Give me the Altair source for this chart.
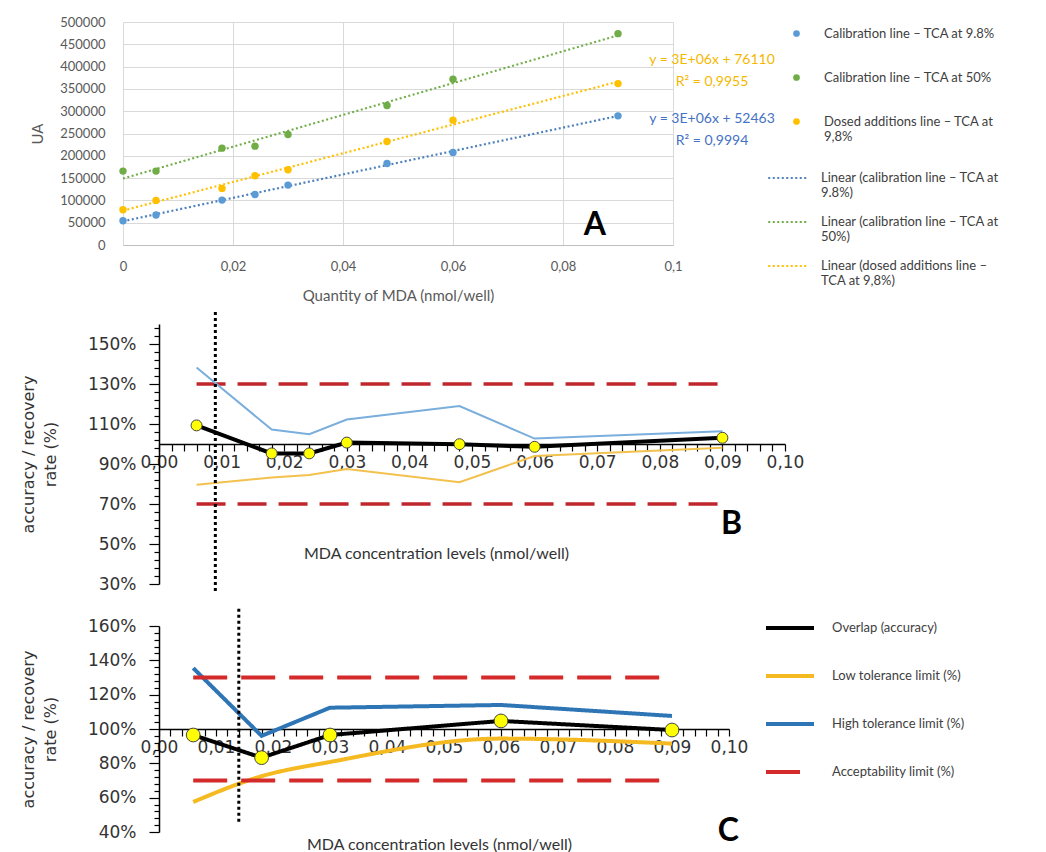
import altair as alt
import pandas as pd

# ---------------- Panel A : calibration lines ----------------
qty = [0, 0.006, 0.018, 0.024, 0.030, 0.048, 0.060, 0.090]
cal_98 = [54500, 67200, 100700, 113400, 134300, 182800, 207500, 289600]
cal_50 = [165700, 165700, 217200, 221600, 247800, 312700, 371600, 473900]
dosed_98 = [79100, 100000, 126900, 155200, 168700, 232100, 279900, 361900]
a_series = ["Calibration line – TCA at 9.8%", "Calibration line – TCA at 50%",
            "Dosed additions line – TCA at|9,8%"]
a_trends = ["Linear (calibration line – TCA at|9.8%)", "Linear (calibration line – TCA at|50%)",
            "Linear (dosed additions line –|TCA at 9,8%)"]
a_colors = ["#5b9bd5", "#70ad47", "#ffc000"]
a_trend_colors = ["#4f81bd", "#70ad47", "#ffc000"]
eq_dosed = "y = 3E+06x + 76110\nR² = 0,9955"
eq_cal98 = "y = 3E+06x + 52463\nR² = 0,9994"
a_xticks = [0, 0.02, 0.04, 0.06, 0.08, 0.1]
a_yticks = [0, 50000, 100000, 150000, 200000, 250000, 300000, 350000, 400000, 450000, 500000]

# ---------------- Panel B : accuracy profile (TCA 9.8%) ----------------
b_x = [0.006, 0.018, 0.024, 0.030, 0.048, 0.060, 0.090]
b_overlap = [1.093, 0.953, 0.953, 1.007, 0.999, 0.986, 1.031]
b_low = [0.796, 0.832, 0.845, 0.875, 0.809, 0.940, 0.981]
b_high = [1.383, 1.072, 1.049, 1.122, 1.190, 1.027, 1.064]
b_lod_x = 0.009
b_lod_span = [1.66, 0.255]

# ---------------- Panel C : accuracy profile (TCA 50%) ----------------
c_x = [0.006, 0.018, 0.030, 0.060, 0.090]
c_overlap = [0.965, 0.833, 0.965, 1.047, 0.994]
c_low = [0.575, 0.725, 0.808, 0.944, 0.915]
c_high = [1.355, 0.960, 1.124, 1.140, 1.076]
c_lod_x = 0.014
c_lod_span = [1.70, 0.455]

accept_limits = [1.30, 0.70]
c_names = ["Overlap (accuracy)", "Low tolerance limit (%)", "High tolerance limit (%)",
           "Acceptability limit (%)"]

conc_ticks = [round(i * 0.002, 3) for i in range(51)]
b_yticks = [round(0.30 + i * 0.04, 2) for i in range(33)]
c_yticks = [round(0.40 + i * 0.04, 2) for i in range(31)]

SHIFT = 36  # B and C plot areas start this far right of panel A's

# =============== Panel A =================
rows = []
for name, trend, vals in zip(a_series, a_trends, [cal_98, cal_50, dosed_98]):
    for xv, yv in zip(qty, vals):
        rows.append({"qty": xv, "UA": yv, "series": name, "trend": trend})
df_a = pd.DataFrame(rows)

x_a = alt.X("qty:Q", scale=alt.Scale(domain=[0, 0.1], nice=False),
            axis=alt.Axis(values=a_xticks, labelExpr="replace(format(datum.value, '~g'), '.', ',')",
                          grid=True, gridColor="#d9d9d9", domainColor="#bfbfbf", ticks=False,
                          labelFont="Lato", labelFontSize=13, labelColor="#595959", labelPadding=15,
                          labelFlush=False, labelOverlap=False,
                          title="Quantity of MDA (nmol/well)", titleFont="Lato", titleFontSize=15,
                          titleFontWeight="normal", titleColor="#595959", titlePadding=15))
y_a = alt.Y("UA:Q", scale=alt.Scale(domain=[0, 500000], nice=False),
            axis=alt.Axis(values=a_yticks, format="d", grid=True, gridColor="#d9d9d9", domain=False,
                          ticks=False, labelFont="Lato", labelFontSize=13, labelColor="#595959",
                          labelPadding=18, labelOverlap=False,
                          title="UA", titleFont="Lato", titleFontSize=15,
                          titleFontWeight="normal", titleColor="#595959", titleX=-78))

leg_points = alt.Legend(title=None, orient="none", legendX=667, legendY=5, symbolType="circle",
                        symbolSize=45, symbolOffset=0, labelOffset=21, rowPadding=30,
                        labelFont="Lato", labelFontSize=13, labelColor="#404040", labelLimit=320,
                        labelExpr="split(datum.label, '|')")
leg_trend = alt.Legend(title=None, orient="none", legendX=644, legendY=135, symbolType="stroke",
                       symbolSize=1560, symbolStrokeWidth=2.2, symbolDash=[2, 2.5], symbolOffset=0,
                       labelOffset=12, rowPadding=1, labelFont="Lato", labelFontSize=13,
                       labelColor="#404040", labelLimit=320, labelExpr="split(datum.label, '|')")

trend_a = alt.Chart(df_a).transform_regression("qty", "UA", groupby=["trend"]).mark_line(
    strokeDash=[2, 2.5], strokeWidth=2.2).encode(
    x=x_a, y=y_a,
    stroke=alt.Stroke("trend:N", scale=alt.Scale(domain=a_trends, range=a_trend_colors), legend=leg_trend))
pts_a = alt.Chart(df_a).mark_circle(size=55, opacity=1).encode(
    x=x_a, y=y_a,
    color=alt.Color("series:N", scale=alt.Scale(domain=a_series, range=a_colors), legend=leg_points))
eq1 = alt.Chart(pd.DataFrame({"qty": [qty[-1]], "UA": [dosed_98[-1]], "t": [eq_dosed]})).mark_text(
    lineBreak="\n", align="center", baseline="top", dx=94, dy=-31, font="Lato", fontSize=14,
    color="#f5b800", lineHeight=22).encode(x=x_a, y=y_a, text="t:N")
eq2 = alt.Chart(pd.DataFrame({"qty": [qty[-1]], "UA": [cal_98[-1]], "t": [eq_cal98]})).mark_text(
    lineBreak="\n", align="center", baseline="top", dx=94, dy=-4, font="Lato", fontSize=14,
    color="#4472c4", lineHeight=22).encode(x=x_a, y=y_a, text="t:N")

chart_a = alt.layer(trend_a, pts_a, eq1, eq2).properties(
    width=550, height=223,
    title=alt.TitleParams("A", anchor="end", frame="group", orient="top", font="Lato", fontSize=32,
                          fontWeight="bold", color="black", baseline="middle", dx=-67, dy=245))


# =============== helpers for B / C =================
def conc_axis(offset, title_x, title_y):
    return alt.Axis(values=conc_ticks, offset=offset,
                    labelExpr="abs(datum.value*100 - round(datum.value*100)) < 0.001 ? "
                              "replace(format(datum.value, '.2f'), '.', ',') : ''",
                    labelFlush=False, labelOverlap=False, grid=False, domainColor="black",
                    domainWidth=1.5, tickColor="black", tickWidth=1.2, tickSize=7,
                    labelFont="DejaVu Sans", labelFontSize=17, labelColor="#333333", labelPadding=3,
                    title="MDA concentration levels (nmol/well)", titleFont="Lato", titleFontSize=16,
                    titleFontWeight="normal", titleColor="#333333", titleX=title_x, titleY=title_y,
                    titleBaseline="middle")


def pct_axis(values, major_expr):
    return alt.Axis(values=values, offset=-SHIFT,
                    labelExpr=f"({major_expr}) ? format(datum.value, '.0%') : ''",
                    tickSize={"condition": {"test": major_expr, "value": 10}, "value": 5},
                    labelOverlap=False, grid=False, domainColor="black", domainWidth=1.5,
                    tickColor="black", tickWidth=1.2, labelFont="DejaVu Sans", labelFontSize=17,
                    labelColor="#333333", labelPadding=13,
                    title=["accuracy / recovery", "rate (%)"], titleFont="DejaVu Sans",
                    titleFontSize=16, titleFontWeight="normal", titleColor="#333333",
                    titleX=-123, titleLineHeight=22)


# =============== Panel B =================
b_width = 626
x_b = alt.X("x:Q", scale=alt.Scale(domain=[0, 0.1], nice=False, range=[SHIFT, SHIFT + b_width]),
            axis=conc_axis(-140, 313, 109))
y_b = alt.Y("y:Q", scale=alt.Scale(domain=[0.3, 1.6], nice=False, zero=False),
            axis=pct_axis(b_yticks, "abs(datum.value*5 - 0.5 - round(datum.value*5 - 0.5)) < 0.001"))

df_b_acc = pd.DataFrame([{"x": xv, "y": lv, "lvl": str(lv)} for lv in accept_limits for xv in (b_x[0], b_x[-1])])
df_b_high = pd.DataFrame({"x": b_x, "y": b_high})
df_b_low = pd.DataFrame({"x": b_x, "y": b_low})
df_b_ov = pd.DataFrame({"x": b_x, "y": b_overlap})
df_b_lod = pd.DataFrame({"x": [b_lod_x], "y": [b_lod_span[0]], "y2": [b_lod_span[1]]})

b_acc = alt.Chart(df_b_acc).mark_line(color="#c0272d", strokeDash=[29, 12], strokeWidth=3.5).encode(
    x=x_b, y=y_b, detail="lvl:N")
b_hi = alt.Chart(df_b_high).mark_line(color="#7aaedc", strokeWidth=2).encode(x=x_b, y=y_b)
b_lo = alt.Chart(df_b_low).mark_line(color="#f2c14e", strokeWidth=2).encode(x=x_b, y=y_b)
b_ovl = alt.Chart(df_b_ov).mark_line(color="black", strokeWidth=4).encode(x=x_b, y=y_b)
b_ovp = alt.Chart(df_b_ov).mark_point(filled=True, fill="#ffff00", stroke="#444444", strokeWidth=1,
                                      size=120, opacity=1).encode(x=x_b, y=y_b)
b_lod = alt.Chart(df_b_lod).mark_rule(color="black", strokeWidth=3, strokeDash=[3, 3]).encode(
    x=x_b, y=y_b, y2="y2:Q")

chart_b = alt.layer(b_acc, b_hi, b_lo, b_ovl, b_ovp, b_lod).properties(
    width=SHIFT + b_width, height=260,
    title=alt.TitleParams("B", anchor="end", frame="group", orient="top", font="Lato", fontSize=32,
                          fontWeight="bold", color="black", baseline="middle", dx=-43, dy=249))

# =============== Panel C =================
c_width = 570
x_c = alt.X("x:Q", scale=alt.Scale(domain=[0, 0.1], nice=False, range=[SHIFT, SHIFT + c_width]),
            axis=conc_axis(-103, 316, 115))
y_c = alt.Y("y:Q", scale=alt.Scale(domain=[0.4, 1.6], nice=False, zero=False),
            axis=pct_axis(c_yticks, "abs(datum.value*5 - round(datum.value*5)) < 0.001"))

rows = []
for xv, yv in zip(c_x, c_overlap):
    rows.append({"x": xv, "y": yv, "s": c_names[0], "d": "ov"})
for xv, yv in zip(c_x, c_high):
    rows.append({"x": xv, "y": yv, "s": c_names[2], "d": "hi"})
for lv in accept_limits:
    for xv in (c_x[0], c_x[-1]):
        rows.append({"x": xv, "y": lv, "s": c_names[3], "d": str(lv)})
df_c_lines = pd.DataFrame(rows)
df_c_low = pd.DataFrame({"x": c_x, "y": c_low, "s": c_names[1], "d": "lo"})
df_c_ov = pd.DataFrame({"x": c_x, "y": c_overlap})
df_c_lod = pd.DataFrame({"x": [c_lod_x], "y": [c_lod_span[0]], "y2": [c_lod_span[1]]})

leg_c = alt.Legend(title=None, orient="none", legendX=641, legendY=-24, symbolType="stroke",
                   symbolSize=2304, symbolStrokeWidth=4, symbolOffset=0, labelOffset=16,
                   rowPadding=14, labelFont="Lato", labelFontSize=13, labelColor="#404040",
                   labelLimit=300)
stroke_c = alt.Stroke("s:N", scale=alt.Scale(domain=c_names,
                                             range=["black", "#f5b921", "#2e75b6", "#d42a2a"]),
                      legend=leg_c)
dash_c = alt.StrokeDash("s:N", scale=alt.Scale(domain=c_names,
                                               range=[[1, 0], [1, 0], [1, 0], [34, 14]]),
                        legend=leg_c)

c_lines = alt.Chart(df_c_lines).mark_line(strokeWidth=4).encode(
    x=x_c, y=y_c, stroke=stroke_c, strokeDash=dash_c, detail="d:N",
    order=alt.Order("x:Q"))
c_lo = alt.Chart(df_c_low).mark_line(strokeWidth=4, interpolate="monotone").encode(
    x=x_c, y=y_c, stroke=stroke_c, strokeDash=dash_c)
c_ovp = alt.Chart(df_c_ov).mark_point(filled=True, fill="#ffff00", stroke="#444444", strokeWidth=1,
                                      size=190, opacity=1).encode(x=x_c, y=y_c)
c_lod = alt.Chart(df_c_lod).mark_rule(color="black", strokeWidth=3, strokeDash=[3, 3]).encode(
    x=x_c, y=y_c, y2="y2:Q")

chart_c = alt.layer(c_lo, c_lines, c_ovp, c_lod).properties(
    width=SHIFT + c_width, height=206,
    title=alt.TitleParams("C", anchor="end", frame="group", orient="top", font="Lato", fontSize=32,
                          fontWeight="bold", color="black", baseline="middle", dx=10, dy=265))

chart = alt.vconcat(chart_a, chart_b, chart_c, spacing=7).resolve_scale(
    x="independent", y="independent", color="independent", stroke="independent",
    strokeDash="independent").properties(
    padding={"left": 12, "top": 8, "right": 0, "bottom": 0}, background="white"
).configure_view(stroke=None)

chart.save("out.html", embed_options={"renderer": "svg", "actions": False})
